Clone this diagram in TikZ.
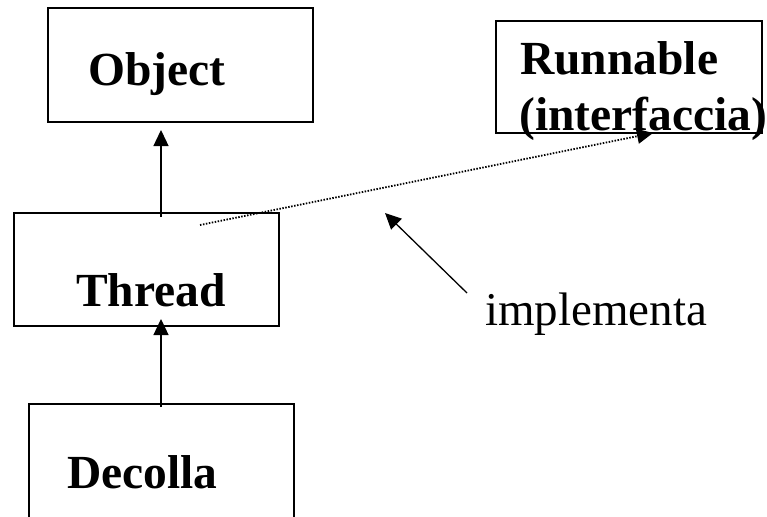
\documentclass[tikz,border=0pt]{standalone}
\usepackage{fontspec}
\setmainfont{Liberation Serif}
\usepackage{tikz}
\usetikzlibrary{positioning,calc,arrows.meta}

\tikzset{
    classbox/.style={draw, line width=1.3pt, inner sep=0pt},
    classname/.style={anchor=base west, inner sep=0pt, font=\fontsize{47.5}{50}\selectfont\bfseries},
    plainlabel/.style={anchor=base west, inner sep=0pt, font=\fontsize{47}{50}\selectfont},
    inherit/.style={line width=1.3pt, -{Triangle[length=16pt,width=15pt]}},
    realize/.style={line width=1.8pt, dash pattern=on 1.5pt off 1.5pt, -{Triangle[length=16pt,width=15pt]}}
}

\begin{document}
\begin{tikzpicture}[x=1pt, y=-1pt]
    \useasboundingbox (0,0) rectangle (767,516);
    \clip (0,0) rectangle (767,516);

    % Boxes
    \node[classbox, minimum width=265pt, minimum height=114pt] (object) at (180.5,65) {};
    \node[classbox, minimum width=265pt, minimum height=113pt] (thread) at (146.5,269.5) {};
    \node[classbox, minimum width=265pt, minimum height=126pt] (decolla) at (161.5,467) {};
    \node[classbox, minimum width=266pt, minimum height=112pt] (runnable) at (629,77) {};

    % Names
    \node[classname] (objectname) at (88,85) {Object};
    \node[classname] (threadname) at (76,306) {Thread};
    \node[classname] (decollaname) at (67,488) {Decolla};
    \node[classname] (runnablename) at (520,75) {Runnable};
    \node[classname] (ifacename) at (519,130) {(interfaccia)};
    \node[plainlabel] (implname) at (485,325) {implementa};

    % End points
    \coordinate (t1) at (161,217);
    \coordinate (o1) at (161,130);
    \coordinate (d1) at (161,407);
    \coordinate (t2) at (161,319);
    \coordinate (t3) at (200,225);
    \coordinate (r1) at (653,133);
    \coordinate (i1) at (467,293);
    \coordinate (i2) at (385,213);

    % Arrows
    \draw[inherit] (t1) -- (o1);
    \draw[inherit] (d1) -- (t2);
    \draw[realize] (t3) -- (r1);
    \draw[inherit] (i1) -- (i2);
\end{tikzpicture}
\end{document}
